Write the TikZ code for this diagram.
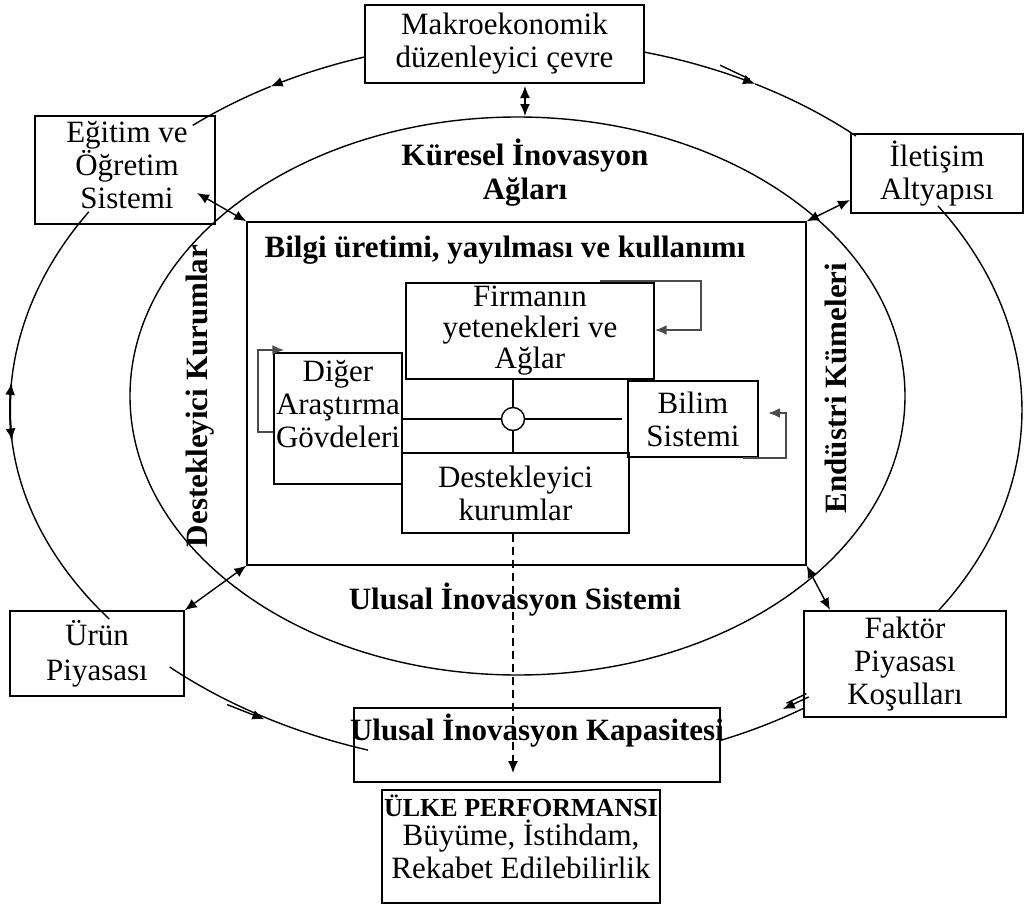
\documentclass[tikz,border=0pt]{standalone}
\usepackage{fontspec}
\setmainfont{Liberation Serif}
\usetikzlibrary{arrows.meta}
\newcommand\regular{\fontsize{15.5}{16.5}\selectfont}
\newcommand\regulartight{\fontsize{15.5}{15.5}\selectfont}
\newcommand\heavy{\fontsize{15.5}{16}\selectfont\bfseries}
\newcommand\heavysmall{\fontsize{13}{14}\selectfont\bfseries}
\begin{document}
\begin{tikzpicture}[x=0.5pt,y=-0.5pt, line width=0.7pt,
  declare function={
    ry(\t)=ifthenelse(sin(\t)>0,370,358+8*cos(\t));
    ox(\t)=516+506*cos(\t);
    oy(\t)=410-ry(\t)*sin(\t);
    hx(\t,\d)=516+(506+\d)*cos(\t);
    hy(\t,\d)=410-(ry(\t)+\d)*sin(\t);
  },
  box/.style={draw, inner sep=0pt, align=center, font=\regular},
  lbl/.style={inner sep=0pt, align=center, font=\regular},
  head/.style={inner sep=0pt, align=center, font=\heavy},
  tip/.style={-{Latex[length=6pt,width=5pt]}},
  rtip/.style={{Latex[length=6pt,width=5pt]}-},
  both/.style={{Latex[length=6pt,width=5pt]}-{Latex[length=6pt,width=5pt]}},
  fb/.style={draw=black!70, line width=1.1pt, -{Latex[length=6pt,width=5pt]}},
  arc/.style={samples=30, variable=\t, smooth}
]
\useasboundingbox (0,0) rectangle (1025,905);

% ---------- outer boxes ----------
\node[box, minimum width=139.5pt, minimum height=39pt] (makro) at (504.5,44) {Makroekonomik\\düzenleyici çevre};
\node[box, minimum width=90pt, minimum height=54pt] (egitim) at (125,170) {};
\node[lbl] (egitimT) at (127,165) {Eğitim ve\\Öğretim\\Sistemi};
\node[box, minimum width=86pt, minimum height=39.5pt] (iletisim) at (937,173.5) {İletişim\\Altyapısı};
\node[box, minimum width=87pt, minimum height=42.5pt] (urun) at (97,653.5) {Ürün\\[1pt]Piyasası};
\node[box, minimum width=101pt, minimum height=53pt] (faktor) at (905,664) {Faktör\\Piyasası\\Koşulları};
\node[box, minimum width=183pt, minimum height=37pt] (kapasite) at (537,745) {};
\node[head] (kapasiteT) at (537,731) {Ulusal İnovasyon Kapasitesi};
\node[box, minimum width=139pt, minimum height=56.5pt] (ulke) at (521,846.5) {};
\node[inner sep=0pt, font=\heavysmall] (ulkeT) at (521,806) {ÜLKE PERFORMANSI};
\node[lbl] (ulkeB) at (521,849) {Büyüme, İstihdam,\\Rekabet Edilebilirlik};

% ---------- outer ring (arcs between the boxes) ----------
\draw[tip] plot[arc, domain=107.4:119] ({ox(\t)},{oy(\t)});
\draw plot[arc, domain=119:129.7] ({ox(\t)},{oy(\t)});
\draw[rtip] plot[arc, domain=61.8:75.4] ({ox(\t)},{oy(\t)});
\draw plot[arc, domain=47.8:61.8] ({ox(\t)},{oy(\t)});
\draw ({hx(66.5,6)},{hy(66.5,6)}) -- ({hx(62.6,2.5)},{hy(62.6,2.5)});
\draw plot[arc, domain=-33.5:33.5] ({ox(\t)},{oy(\t)});
\draw plot[arc, domain=147.6:216.5] ({ox(\t)},{oy(\t)});
\draw[both, line width=1pt] plot[arc, domain=175.8:185] ({ox(\t)},{oy(\t)});
\draw plot[arc, domain=226.8:253] ({ox(\t)},{oy(\t)});
\draw[tip] ({hx(235.5,4)},{hy(235.5,4)}) -- ({hx(240.3,2)},{hy(240.3,2)});
\draw plot[arc, domain=-66.2:-55.3] ({ox(\t)},{oy(\t)});
\draw[tip] ({hx(-54,-8)},{hy(-54,-8)}) -- ({hx(-57.6,-8)},{hy(-57.6,-8)});
\draw ({hx(-54,-12)},{hy(-54,-12)}) -- ({hx(-56.8,-12)},{hy(-56.8,-12)});

% ---------- inner ring ----------
\draw (517.5,396) ellipse [x radius=193.75pt, y radius=139.5pt];
\node[head] (kureselT) at (525,173) {Küresel İnovasyon\\[1pt]Ağları};
\node[head] (ulusalT) at (515,600) {Ulusal İnovasyon Sistemi};
\node[head, rotate=90] (destekT) at (200,396) {Destekleyici Kurumlar};
\node[head, rotate=90] (endustriT) at (836,388) {Endüstri Kümeleri};

% ---------- knowledge frame ----------
\node[draw, inner sep=0pt, minimum width=279.5pt, minimum height=171.5pt] (frame) at (526.5,393.5) {};
\node[head] (bilgiT) at (505,250) {Bilgi üretimi, yayılması ve kullanımı};

\node[box, font=\regulartight, minimum width=124pt, minimum height=48pt] (firma) at (530,331) {Firmanın\\yetenekleri ve\\Ağlar};
\node[box, minimum width=64pt, minimum height=65.5pt] (diger) at (338,418.5) {};
\node[lbl] (digerT) at (338,404) {Diğer\\Araştırma\\Gövdeleri};
\node[box, minimum width=65pt, minimum height=38pt] (bilim) at (693,419) {Bilim\\Sistemi};
\node[box, minimum width=113.5pt, minimum height=40pt] (destek) at (515.5,493) {Destekleyici\\kurumlar};

% central cross with hub
\node[draw, circle, fill=white, minimum size=11.5pt, inner sep=0pt] (hub) at (513,419) {};
\coordinate (crossE) at (622,419);
\draw (diger.east |- hub) -- (hub.west);
\draw (hub.east) -- (crossE);
\draw (firma.south -| hub) -- (hub.north);
\draw (hub.south) -- (destek.north -| hub);

% self-feedback loops
\draw[fb] (600,281) -- ++(101,0) -- ++(0,49) -- (firma.east |- 0,330);
\draw[fb] (diger.west |- 0,432) -- ++(-15,0) -- ++(0,-82) -- ++(26,0);
\draw[fb] (743,458) -- ++(43,0) -- ++(0,-45) -- ++(-18,0);

% ---------- two-way links ----------
\coordinate (mkBot) at (525,86);
\coordinate (inTop) at (525,116);
\coordinate (egTip) at (197,193);
\coordinate (ilTip) at (850,200);
\coordinate (fkTip) at (830,610);
\draw[both] (mkBot) -- (inTop);
\draw[both] (egTip) -- (frame.north west);
\draw[both] (frame.north east) -- (ilTip);
\draw[both] (urun.north east) -- (frame.south west);
\draw[both] (frame.south east) -- (fkTip);

% performance flow
\coordinate (dashEnd) at (513,773);
\draw[dashed, dash pattern=on 4pt off 2.5pt, tip] (destek.south -| hub) -- (dashEnd);
\end{tikzpicture}
\end{document}
